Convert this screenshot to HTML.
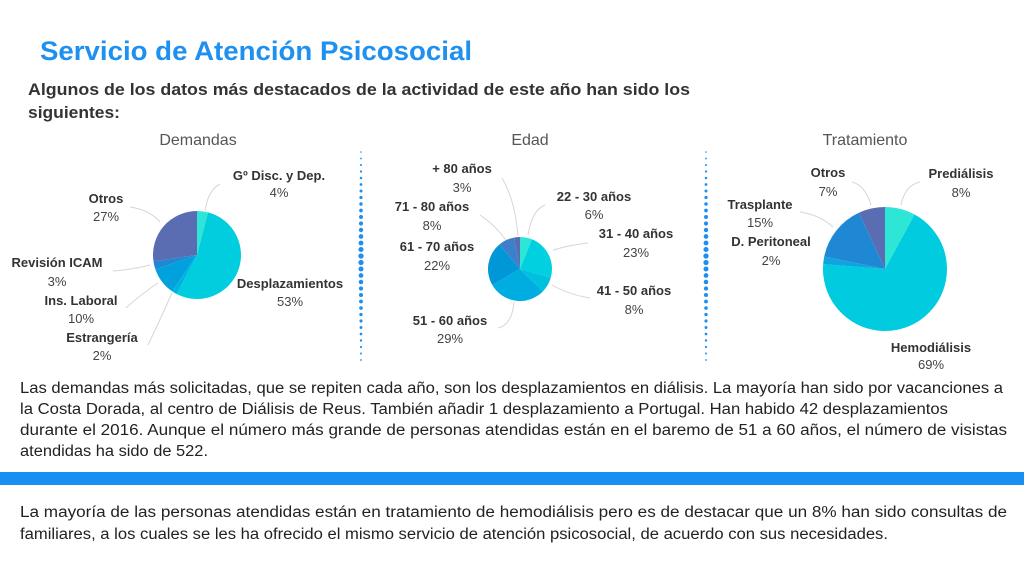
<!DOCTYPE html>
<html><head><meta charset="utf-8"><style>
html,body{margin:0;padding:0;background:#fff;}
svg{display:block;font-family:"Liberation Sans",sans-serif;}
.b{font-weight:bold;font-size:13px;fill:#333;text-anchor:middle;}
.p{font-size:13px;fill:#444;text-anchor:middle;}
.t{font-size:15.5px;fill:#222;}
.ct{font-size:16px;fill:#555;text-anchor:middle;}
.l{fill:none;stroke:#d6d6d6;stroke-width:1;}
</style></head><body>
<svg id="s" width="1024" height="576" viewBox="0 0 1024 576" xmlns="http://www.w3.org/2000/svg">
<text x="40" y="60" font-size="27" font-weight="bold" fill="#1e90f0" textLength="432" lengthAdjust="spacingAndGlyphs">Servicio de Atención Psicosocial</text>
<text x="28" y="95" font-size="16.5" font-weight="bold" fill="#333" textLength="662" lengthAdjust="spacingAndGlyphs">Algunos de los datos más destacados de la actividad de este año han sido los</text>
<text x="28" y="118" font-size="16.5" font-weight="bold" fill="#333" textLength="92" lengthAdjust="spacingAndGlyphs">siguientes:</text>
<text class="ct" x="198" y="145">Demandas</text>
<text class="ct" x="530" y="145">Edad</text>
<text class="ct" x="865" y="145">Tratamiento</text>
<g id="pies"></g>
<g id="dots"></g>
<path class="l" d="M205 211 Q208 190 220 184"/>
<path class="l" d="M160 222 Q150 210 130 207"/>
<path class="l" d="M150 265 Q130 270 113 271"/>
<path class="l" d="M158 283 Q140 295 126 308"/>
<path class="l" d="M172 293 Q160 320 148 345"/>
<path class="l" d="M518 236 Q515 200 502 178"/>
<path class="l" d="M506 240 Q495 225 480 215"/>
<path class="l" d="M528 235 Q532 210 545 205"/>
<path class="l" d="M553 250 Q570 245 588 243"/>
<path class="l" d="M552 285 Q570 295 590 298"/>
<path class="l" d="M514 302 Q512 325 498 328"/>
<path class="l" d="M871 205 Q865 185 852 182"/>
<path class="l" d="M901 205 Q905 185 920 182"/>
<path class="l" d="M833 227 Q820 215 800 212"/>
<text class="b" x="279" y="180">Gº Disc. y Dep.</text><text class="p" x="279" y="197">4%</text>
<text class="b" x="106" y="203">Otros</text><text class="p" x="106" y="221">27%</text>
<text class="b" x="57" y="267">Revisión ICAM</text><text class="p" x="57" y="286">3%</text>
<text class="b" x="81" y="305">Ins. Laboral</text><text class="p" x="81" y="323">10%</text>
<text class="b" x="102" y="342">Estrangería</text><text class="p" x="102" y="360">2%</text>
<text class="b" x="290" y="288">Desplazamientos</text><text class="p" x="290" y="306">53%</text>
<text class="b" x="462" y="173">+ 80 años</text><text class="p" x="462" y="192">3%</text>
<text class="b" x="432" y="211">71 - 80 años</text><text class="p" x="432" y="230">8%</text>
<text class="b" x="437" y="251">61 - 70 años</text><text class="p" x="437" y="270">22%</text>
<text class="b" x="450" y="325">51 - 60 años</text><text class="p" x="450" y="343">29%</text>
<text class="b" x="594" y="201">22 - 30 años</text><text class="p" x="594" y="219">6%</text>
<text class="b" x="636" y="238">31 - 40 años</text><text class="p" x="636" y="257">23%</text>
<text class="b" x="634" y="295">41 - 50 años</text><text class="p" x="634" y="314">8%</text>
<text class="b" x="828" y="177">Otros</text><text class="p" x="828" y="196">7%</text>
<text class="b" x="961" y="178">Prediálisis</text><text class="p" x="961" y="197">8%</text>
<text class="b" x="760" y="209">Trasplante</text><text class="p" x="760" y="227">15%</text>
<text class="b" x="771" y="246">D. Peritoneal</text><text class="p" x="771" y="265">2%</text>
<text class="b" x="931" y="352">Hemodiálisis</text><text class="p" x="931" y="369">69%</text>
<text class="t" x="20" y="393" textLength="983" lengthAdjust="spacingAndGlyphs">Las demandas más solicitadas, que se repiten cada año, son los desplazamientos en diálisis. La mayoría han sido por vacanciones a</text>
<text class="t" x="20" y="414" textLength="928" lengthAdjust="spacingAndGlyphs">la Costa Dorada, al centro de Diálisis de Reus. También añadir 1 desplazamiento a Portugal.  Han habido 42 desplazamientos</text>
<text class="t" x="20" y="435" textLength="987" lengthAdjust="spacingAndGlyphs">durante el 2016. Aunque el número más grande de personas atendidas están en el baremo de 51 a 60 años, el número de visistas</text>
<text class="t" x="20" y="456" textLength="188" lengthAdjust="spacingAndGlyphs">atendidas ha sido de 522.</text>
<rect x="0" y="472" width="1024" height="13" fill="#1a8ff2"/>
<text class="t" x="20" y="517" textLength="987" lengthAdjust="spacingAndGlyphs">La mayoría de las personas atendidas están en tratamiento de hemodiálisis pero es de destacar que un 8% han sido consultas de</text>
<text class="t" x="20" y="539" textLength="868" lengthAdjust="spacingAndGlyphs">familiares, a los cuales se les ha ofrecido el mismo servicio de atención psicosocial, de acuerdo con sus necesidades.</text>
</svg>
<script>
var NS="http://www.w3.org/2000/svg";
function pie(cx,cy,r,data){
  var g=document.getElementById("pies"),a=0,tot=0;
  data.forEach(function(d){tot+=d[0];});
  data.forEach(function(d){
    var a0=a/tot*2*Math.PI,a1=(a+d[0])/tot*2*Math.PI;a+=d[0];
    var x0=cx+r*Math.sin(a0),y0=cy-r*Math.cos(a0),x1=cx+r*Math.sin(a1),y1=cy-r*Math.cos(a1);
    var p=document.createElementNS(NS,"path");
    p.setAttribute("d","M"+cx+" "+cy+"L"+x0+" "+y0+"A"+r+" "+r+" 0 "+((a1-a0)>Math.PI?1:0)+" 1 "+x1+" "+y1+"Z");
    p.setAttribute("fill",d[1]);g.appendChild(p);
  });
}
pie(197,255,44,[[4,"#2ee6d6"],[53,"#00cedf"],[2,"#00b4e0"],[10,"#00a1dc"],[3,"#1e88d4"],[27,"#5a6db2"]]);
pie(520,269,32,[[6,"#2ee6d6"],[23,"#00d0e0"],[8,"#00c0e0"],[29,"#00ade0"],[22,"#0097d8"],[8,"#3c80cc"],[3,"#5a6db2"]]);
pie(885,269,62,[[8,"#2ee6d6"],[69,"#00cbdf"],[2,"#0fa4e0"],[15,"#1e88d4"],[7,"#5a6db2"]]);
var dg=document.getElementById("dots");
[361,706].forEach(function(x){
  for(var y=152;y<=364;y+=6.5){
    var t=1-Math.abs(y-258)/106, c=document.createElementNS(NS,"circle");
    c.setAttribute("cx",x);c.setAttribute("cy",y);c.setAttribute("r",0.8+1.9*t);
    c.setAttribute("fill","#1e8ff0");dg.appendChild(c);
  }
});
</script>
</body></html>
